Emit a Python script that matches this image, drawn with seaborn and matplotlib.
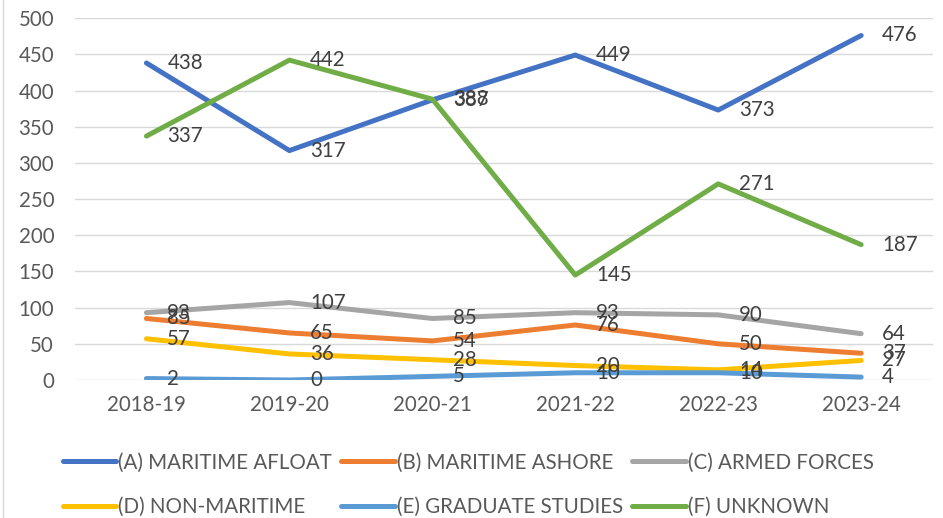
import pandas as pd
import numpy as np
import seaborn as sns
import matplotlib.pyplot as plt
from matplotlib.lines import Line2D

years = ['2018-19', '2019-20', '2020-21', '2021-22', '2022-23', '2023-24']
series_names = ['(A) MARITIME AFLOAT', '(B) MARITIME ASHORE', '(C) ARMED FORCES',
                '(D) NON-MARITIME', '(E) GRADUATE STUDIES', '(F) UNKNOWN']
afloat = [438, 317, 387, 449, 373, 476]
ashore = [85, 65, 54, 76, 50, 37]
armed = [93, 107, 85, 93, 90, 64]
non_maritime = [57, 36, 28, 20, 14, 27]
graduate = [2, 0, 5, 10, 10, 4]
unknown = [337, 442, 388, 145, 271, 187]
colors = ['#4472C4', '#ED7D31', '#A5A5A5', '#FFC000', '#5B9BD5', '#70AD47']

values = [afloat, ashore, armed, non_maritime, graduate, unknown]
df = pd.DataFrame({
    'Year': years * 6,
    'Series': np.repeat(series_names, len(years)),
    'Count': np.concatenate(values),
})
df['x'] = df['Year'].map({y: i for i, y in enumerate(years)})

sns.set_style('white')
plt.rcParams['font.family'] = ['Lato', 'DejaVu Sans']
text_col = '#595959'
fs = 14.8

fig = plt.figure(figsize=(9.43, 5.18), dpi=100)
ax = fig.add_axes([0.0795, 0.2664, 0.9095, 0.6986])

sns.lineplot(data=df, x='x', y='Count', hue='Series', hue_order=series_names,
             palette=colors, linewidth=3.6, legend=False, ax=ax,
             solid_capstyle='round')

# data labels to the right of each point
for name, vals in zip(series_names, values):
    for i, v in enumerate(vals):
        ax.annotate(str(v), (i, v), xytext=(15, 0), textcoords='offset points',
                    ha='left', va='center', fontsize=fs, color='#404040')

ax.set_xlim(-0.5, 5.5)
ax.set_ylim(0, 500)
ax.set_yticks(range(0, 501, 50))
ax.set_xticks(range(len(years)))
ax.set_xticklabels(years)
ax.grid(axis='y', color='#D9D9D9', linewidth=1)
ax.set_axisbelow(True)
for s in ax.spines.values():
    s.set_visible(False)
ax.tick_params(axis='both', length=0, labelsize=fs, labelcolor=text_col)
ax.tick_params(axis='y', pad=15)
ax.tick_params(axis='x', pad=11)
ax.set_xlabel('')
ax.set_ylabel('')

# legend: two rows of three, filled row-wise
order = [0, 3, 1, 4, 2, 5]
handles = [Line2D([], [], color=colors[k], linewidth=3.6, solid_capstyle='round') for k in order]
labels = [series_names[k] for k in order]
fig.legend(handles, labels, ncol=3, loc='upper left', bbox_to_anchor=(0.058, 0.142),
           frameon=False, fontsize=fs, handlelength=2.6, handletextpad=0.1,
           columnspacing=0.45, labelspacing=1.2, labelcolor=text_col,
           borderaxespad=0)

fig.add_artist(Line2D([0.003, 0.003], [0, 1], color='#D9D9D9', linewidth=1,
                      transform=fig.transFigure))

fig.savefig('out.png', dpi=100)
